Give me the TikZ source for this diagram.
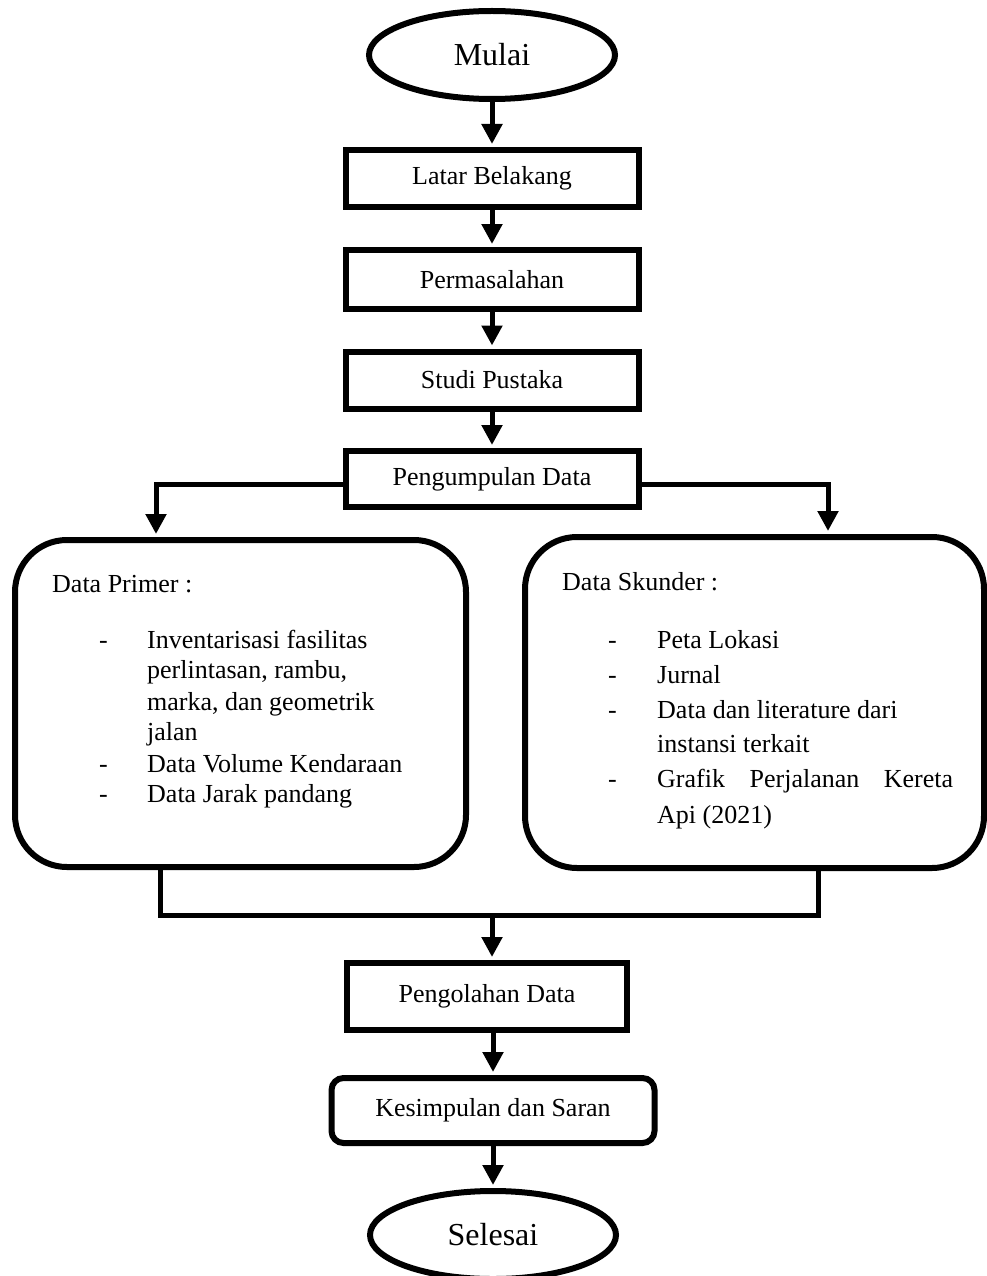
\documentclass[tikz,border=0pt]{standalone}
\usepackage{fontspec}
\setmainfont{Liberation Serif}
\usetikzlibrary{shapes.geometric,arrows.meta}
\begin{document}
\begin{tikzpicture}[x=1pt,y=-1pt,
  box/.style={draw,line width=6pt,rectangle,inner sep=0pt,minimum width=293,font=\fontsize{26}{30}\selectfont},
  term/.style={draw,line width=6pt,ellipse,inner sep=0pt,minimum width=246,minimum height=88,font=\fontsize{32}{36}\selectfont},
  panel/.style={draw,line width=6pt,rectangle,rounded corners=52pt,inner sep=0pt},
  txt/.style={anchor=base west,inner sep=0pt,font=\fontsize{26}{30}\selectfont},
  conn/.style={line width=5pt},
  arr/.style={line width=5pt,-{Triangle[length=20pt,width=20pt]},shorten >=3pt}
]
\useasboundingbox (0,0) rectangle (986,1276);
\fill[white] (0,0) rectangle (986,1276);

\node[term] (mulai) at (492,55) {Mulai};
\node[box, minimum height=57] (latar) at (492,178.5) {Latar Belakang};
\node[box, minimum height=59] (perm) at (492,279.5) {Permasalahan};
\node[box, minimum height=57] (studi) at (492,380) {Studi Pustaka};
\node[box, minimum height=56] (kumpul) at (492,479) {Pengumpulan Data};
\node[panel, minimum width=451, minimum height=327] (primer) at (240.5,703.5) {};
\node[panel, minimum width=459, minimum height=331] (skunder) at (754.5,702.5) {};
\node[box, minimum width=280, minimum height=67] (olah) at (487,996.5) {Pengolahan Data};
\node[box, rounded corners=12pt, minimum width=323, minimum height=65] (simpul) at (493,1110.5) {Kesimpulan dan Saran};
\node[term] (selesai) at (493,1235) {Selesai};

% texts in Data Primer
\node[txt] (p0) at (52,592) {Data Primer :};
\node[txt] (pd1) at (99,648) {-};
\node[txt] (p1) at (147,648) {Inventarisasi fasilitas};
\node[txt] (p1b) at (147,678) {perlintasan, rambu,};
\node[txt] (p1c) at (147,710) {marka, dan geometrik};
\node[txt] (p1d) at (147,740) {jalan};
\node[txt] (pd2) at (99,772) {-};
\node[txt] (p2) at (147,772) {Data Volume Kendaraan};
\node[txt] (pd3) at (99,802) {-};
\node[txt] (p3) at (147,802) {Data Jarak pandang};

% texts in Data Skunder
\node[txt] (s0) at (562,590) {Data Skunder :};
\node[txt] (sd1) at (608,648) {-};
\node[txt] (s1) at (657,648) {Peta Lokasi};
\node[txt] (sd2) at (608,683) {-};
\node[txt] (s2) at (657,683) {Jurnal};
\node[txt] (sd3) at (608,718) {-};
\node[txt] (s3) at (657,718) {Data dan literature dari};
\node[txt] (s3b) at (657,752) {instansi terkait};
\node[txt] (sd4) at (608,787) {-};
\node[txt] (s4) at (657,787) {\makebox[296pt][s]{Grafik Perjalanan Kereta}};
\node[txt] (s4b) at (657,823) {Api (2021)};

% connectors
\draw[arr] (mulai.south) -- (latar.north);
\draw[arr] (latar) -- (perm);
\draw[arr] (perm) -- (studi);
\draw[arr] (studi) -- (kumpul);
\draw[arr] ([yshift=-5pt]kumpul.west) -| ([xshift=-84.5pt]primer.north);
\draw[arr] ([yshift=-5pt]kumpul.east) -| ([xshift=73.5pt]skunder.north);
\coordinate (jn) at (492,915);
\draw[conn] ([xshift=-80.5pt]primer.south) |- (jn) -| ([xshift=63.5pt]skunder.south);
\draw[arr] (jn) -- (jn |- olah.north);
\draw[arr] ([xshift=6pt]olah.south) -- (simpul.north);
\draw[arr] (simpul.south) -- (selesai.north);
\end{tikzpicture}
\end{document}
